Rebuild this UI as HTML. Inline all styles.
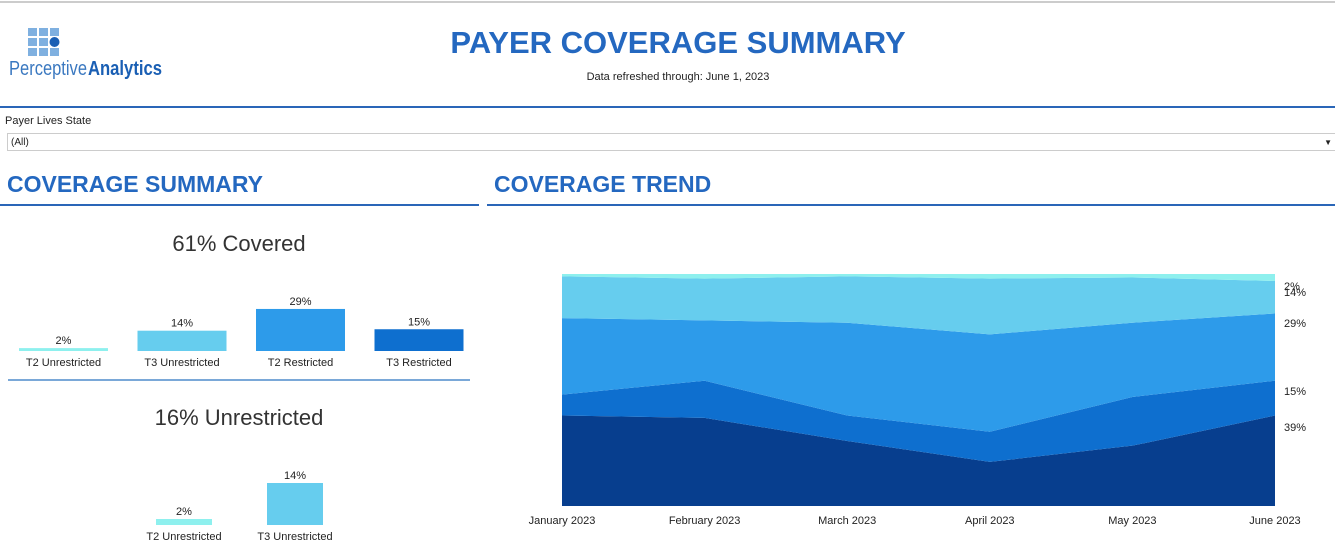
<!DOCTYPE html>
<html><head><meta charset="utf-8"><style>
body{margin:0;width:1335px;height:556px;background:#fff;font-family:"Liberation Sans",sans-serif;position:relative;overflow:hidden}
.a{position:absolute}
.h{color:#2468c0;font-weight:bold}
</style></head><body>
<div class="a" style="left:0;top:1px;width:1335px;height:2px;background:#ccc"></div>
<svg class="a" style="left:8px;top:26px" width="160" height="56">
<g fill="#7fb0e0"><rect x="20" y="2" width="9" height="8"/><rect x="31" y="2" width="9" height="8"/><rect x="42" y="2" width="9" height="8"/>
<rect x="20" y="12" width="9" height="8"/><rect x="31" y="12" width="9" height="8"/>
<rect x="20" y="22" width="9" height="8"/><rect x="31" y="22" width="9" height="8"/><rect x="42" y="22" width="9" height="8"/></g>
<circle cx="46.5" cy="16" r="5" fill="#1a5fb4"/>
<text x="1" y="49" font-size="20" fill="#3a78c0" font-family="Liberation Sans Narrow, Liberation Sans, sans-serif" textLength="78" lengthAdjust="spacingAndGlyphs">Perceptive</text>
<text x="80" y="49" font-size="20" font-weight="bold" fill="#1a5fb4" font-family="Liberation Sans Narrow, Liberation Sans, sans-serif" textLength="74" lengthAdjust="spacingAndGlyphs">Analytics</text>
</svg>
<div class="a h" style="left:0;width:1356px;text-align:center;top:25px;font-size:31px">PAYER COVERAGE SUMMARY</div>
<div class="a" style="left:0;width:1356px;text-align:center;top:71px;font-size:11px;color:#222">Data refreshed through: June 1, 2023</div>
<div class="a" style="left:0;top:106px;width:1335px;height:2px;background:#2a66b8"></div>
<div class="a" style="left:5px;top:115px;font-size:11px;color:#222">Payer Lives State</div>
<div class="a" style="left:7px;top:133px;width:1330px;height:18px;border:1px solid #ccc;font-size:10px;line-height:18px;box-sizing:border-box;padding-left:3px;color:#222">(All)<span style="position:absolute;right:4px;font-size:8px">▼</span></div>
<div class="a h" style="left:7px;top:171px;font-size:23px">COVERAGE SUMMARY</div>
<div class="a" style="left:0;top:204px;width:479px;height:2px;background:#2a66b8"></div>
<div class="a h" style="left:494px;top:171px;font-size:23px">COVERAGE TREND</div>
<div class="a" style="left:487px;top:204px;width:848px;height:2px;background:#2a66b8"></div>
<div class="a" style="left:0;width:478px;text-align:center;top:231px;font-size:22px;color:#333">61% Covered</div>
<div class="a" style="left:8px;top:379px;width:462px;height:2px;background:#7aa8d8"></div>
<div class="a" style="left:0;width:478px;text-align:center;top:405px;font-size:22px;color:#333">16% Unrestricted</div>
<svg class="a" id="bars" style="left:0;top:0" width="480" height="556"></svg>
<svg class="a" id="trend" style="left:0;top:0" width="1335" height="556"></svg>
<script>
const ns="http://www.w3.org/2000/svg";
function mk(p,t,a){const e=document.createElementNS(ns,t);for(const k in a)e.setAttribute(k,a[k]);p.appendChild(e);return e;}
// bar charts
const covCats=["T2 Unrestricted","T3 Unrestricted","T2 Restricted","T3 Restricted"];
const covVals=[2,14,29,15];
const covColors=["#8ef0ee","#66cdee","#2d9bea","#0e6fcf"];
const unrCats=["T2 Unrestricted","T3 Unrestricted"];
const unrVals=[2,14];
const bars=document.getElementById('bars');
function barChart(cats,vals,x0,step,w,base,scale,tag){
  cats.forEach((c,i)=>{
    const x=x0+i*step,h=vals[i]*scale;
    const r=mk(bars,'rect',{x:x,y:base-h,width:w,height:h,fill:covColors[i]});
    
    
    const v=mk(bars,'text',{x:x+w/2,y:base-h-4,'text-anchor':'middle','font-size':11,fill:'#222'});v.textContent=vals[i]+'%';
    
    
    const l=mk(bars,'text',{x:x+w/2,y:base+15,'text-anchor':'middle','font-size':11,fill:'#222'});l.textContent=c;
    
    
  });
}
barChart(covCats,covVals,19,118.5,89,351,1.45,'coverage');
barChart(unrCats,unrVals,156,111,56,525,3,'unrestricted');
// trend
const months=["January 2023","February 2023","March 2023","April 2023","May 2023","June 2023"];
const t3Restricted=[39,38,28,19,26,39];
const t2Restricted=[9,16,11,13,21,15];
const t3Unrestricted=[33,26,40,42,32,29];
const t2Unrestricted=[18,18,20,24,19.5,14];
const cyanSeries=[1,2,1,2,1.5,3];
const endLabels=["39%","15%","29%","14%","2%"];
const series=[t3Restricted,t2Restricted,t3Unrestricted,t2Unrestricted,cyanSeries];
const colors=["#073e8e","#0e6fcf","#2d9bea","#66cdee","#8ef0ee"];
const svg=document.getElementById('trend');
const X0=562,X1=1275,Y0=506,H=232;
const xs=i=>X0+(X1-X0)*i/(months.length-1);
const ys=v=>Y0-v*H/100;
let cum=months.map(()=>0);
series.forEach((s,k)=>{
  const lo=cum.slice(),hi=cum.map((c,i)=>c+s[i]);
  let d='M'+months.map((m,i)=>xs(i)+','+ys(hi[i])).join(' L')+' L'+months.map((m,i)=>xs(months.length-1-i)+','+ys(lo[months.length-1-i])).join(' L')+'Z';
  const p=mk(svg,'path',{d:d,fill:colors[k]});
  
  
  cum=hi;
});
const labelY=[431,395,327,296,290];
endLabels.forEach((t,k)=>{
  const e=mk(svg,'text',{x:1284,y:labelY[k],'font-size':11,fill:'#222'});
  e.textContent=t;
  
  
});
months.forEach((m,i)=>{
  const e=mk(svg,'text',{x:xs(i),y:524,'text-anchor':'middle','font-size':11,fill:'#222'});
  e.textContent=m;
  
  
});
</script>
</body></html>
